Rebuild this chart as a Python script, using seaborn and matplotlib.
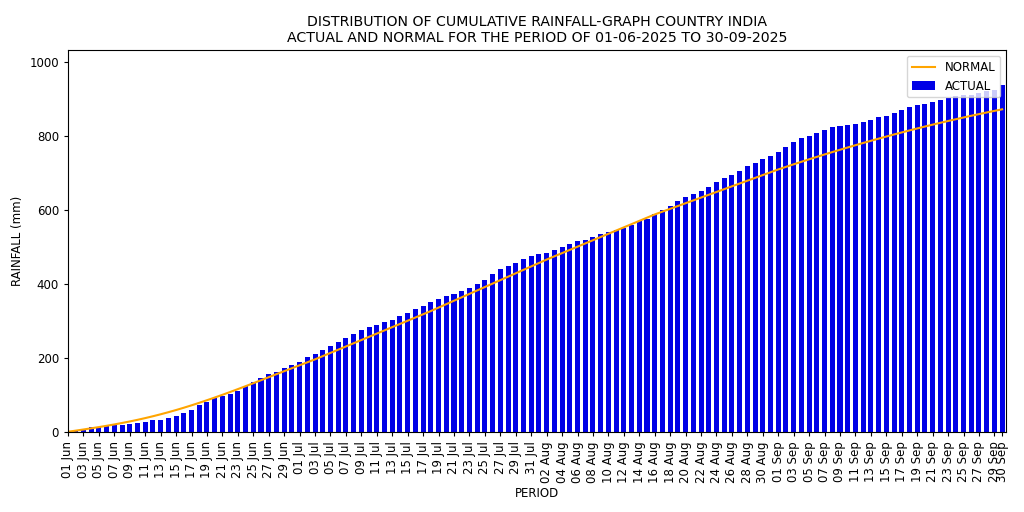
import numpy as np
import pandas as pd
import matplotlib
matplotlib.use("Agg")
import matplotlib.pyplot as plt
import seaborn as sns

# ---- data ----
dates = pd.date_range("2025-06-01", "2025-09-30", freq="D")
day_labels = [d.strftime("%d %b") for d in dates]

actual = [
    1.5, 3, 7, 13, 14, 17, 19, 20, 22, 24,
    27, 32, 33, 39, 43, 52, 61, 72, 82, 91,
    98, 104, 112, 125, 135, 146, 157, 163, 172, 181,
    190, 202, 211, 221, 232, 243, 254, 264, 276, 285,
    289, 298, 303, 313, 323, 332, 342, 351, 360, 368,
    374, 381, 390, 399, 411, 427, 441, 448, 457, 468,
    475, 480, 485, 492, 501, 508, 517, 519, 528, 535,
    540, 546, 552, 560, 570, 577, 588, 600, 612, 625,
    635, 644, 651, 663, 676, 686, 695, 706, 718, 727,
    739, 746, 758, 769, 783, 795, 801, 808, 815, 823,
    828, 829, 833, 839, 843, 850, 854, 863, 870, 877,
    885, 887, 892, 896, 903, 907, 912, 912, 917, 922,
    924, 938,
]

normal = [
    1.0, 4.0, 7.1, 10.3, 13.6, 17.1, 20.8, 24.7, 28.8, 33.2,
    37.9, 42.9, 48.2, 53.8, 59.7, 65.9, 72.4, 79.2, 86.2, 93.4,
    100.8, 108.4, 116.2, 124.1, 132.1, 140.2, 148.4, 156.6, 164.6, 172.6,
    180.6, 188.6, 196.6, 205.3, 214.0, 222.7, 231.4, 240.1, 248.8, 257.5,
    266.2, 274.9, 283.6, 292.3, 301.0, 309.7, 318.4, 327.1, 336.4, 345.7,
    355.0, 364.2, 373.5, 382.8, 392.0, 401.3, 410.6, 419.8, 429.1, 438.4,
    447.6, 456.9, 466.2, 474.9, 483.6, 492.3, 501.0, 509.7, 518.4, 527.1,
    535.8, 544.5, 553.2, 561.9, 570.6, 579.3, 588.0, 595.6, 603.2, 610.8,
    618.4, 626.0, 633.6, 641.2, 648.8, 656.4, 664.0, 671.6, 679.2, 686.8,
    694.4, 702.0, 709.6, 716.6, 723.5, 730.3, 737.0, 743.6, 750.1, 756.5,
    762.8, 769.0, 775.1, 781.1, 787.0, 792.8, 798.5, 804.1, 809.6, 815.0,
    820.3, 825.5, 830.6, 835.6, 840.5, 845.3, 850.0, 854.6, 859.1, 863.5,
    867.8, 872.0,
]

df = pd.DataFrame({"day": day_labels, "actual": actual, "normal": normal})
df["pos"] = np.arange(len(df))

# ---- figure ----
fig = plt.figure(figsize=(10.24, 5.12), dpi=100)
ax = fig.add_axes([0.0664, 0.156, 0.916, 0.746])

sns.barplot(data=df, x="day", y="actual", order=day_labels, color="#0000e6",
            saturation=1, width=0.65, ax=ax, label="ACTUAL")
sns.lineplot(data=df, x="pos", y="normal", color="orange", linewidth=1.5,
             ax=ax, label="NORMAL")

tick_pos = list(range(0, len(day_labels), 2)) + [len(day_labels) - 1]
ax.set_xticks(tick_pos)
ax.set_xticklabels([day_labels[i] for i in tick_pos], rotation=90, fontsize=8.5)
ax.set_xlim(0, len(day_labels) - 0.5)
ax.set_ylim(0, max(actual) * 1.1)
ax.set_yticks([0, 200, 400, 600, 800, 1000])
ax.tick_params(axis="y", labelsize=8.5)
ax.tick_params(axis="both", length=3)

ax.set_xlabel("PERIOD", fontsize=8.5, labelpad=3)
ax.set_ylabel("RAINFALL (mm)", fontsize=8.5)
ax.set_title("DISTRIBUTION OF CUMULATIVE RAINFALL-GRAPH COUNTRY INDIA\n"
             "ACTUAL AND NORMAL FOR THE PERIOD OF 01-06-2025 TO 30-09-2025",
             fontsize=10.2)

handles, labels = ax.get_legend_handles_labels()
order = [labels.index("NORMAL"), labels.index("ACTUAL")]
ax.legend([handles[i] for i in order], [labels[i] for i in order],
          loc="upper right", fontsize=8.5)

fig.savefig("out.png", dpi=100)
